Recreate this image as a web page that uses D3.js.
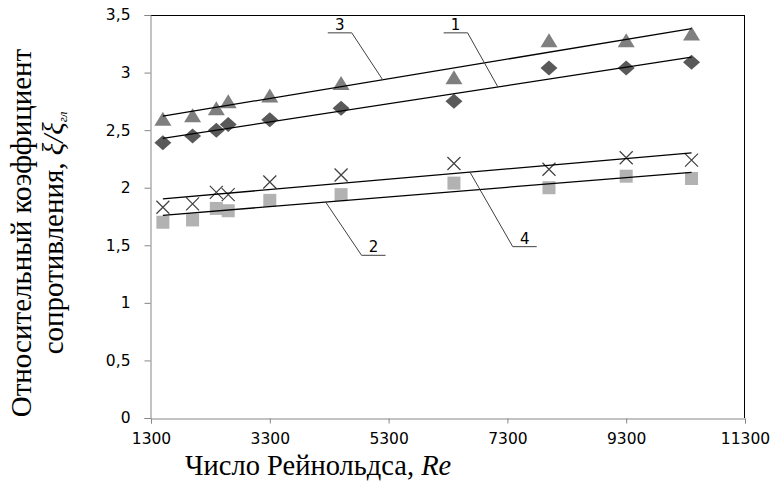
<!DOCTYPE html>
<html>
<head>
<meta charset="utf-8">
<script src="https://cdn.jsdelivr.net/npm/d3@7"></script>
<style>
  body { margin: 0; background: #fff; }
</style>
</head>
<body>
<svg id="chart"></svg>
<script>
// Reynolds numbers of the measurement points (same for all four series)
const reynolds = [1500, 2000, 2400, 2600, 3300, 4500, 6400, 8000, 9300, 10400];

// relative resistance coefficient, one array per curve
const curve1 = [2.39, 2.45, 2.5, 2.55, 2.59, 2.69, 2.75, 3.04, 3.04, 3.09]; // diamonds
const curve2 = [1.7, 1.72, 1.82, 1.8, 1.89, 1.94, 2.04, 2.0, 2.1, 2.08];    // squares
const curve3 = [2.6, 2.63, 2.69, 2.75, 2.8, 2.91, 2.96, 3.28, 3.28, 3.34];  // triangles
const curve4 = [1.83, 1.86, 1.96, 1.94, 2.05, 2.11, 2.21, 2.16, 2.26, 2.24]; // crosses

const xTicks = [1300, 3300, 5300, 7300, 9300, 11300];
const yTicks = [0, 0.5, 1, 1.5, 2, 2.5, 3, 3.5];

// curve labels: where the leader touches the trend line and where it bends
const labelNames = ["3", "1", "4", "2"];
const labelCurves = [curve3, curve1, curve4, curve2];
const labelAnchorRe = [5200, 7140, 6670, 4240];
const labelElbowRe = [4680, 6630, 7390, 4845];
const labelElbowY = [3.345, 3.345, 1.488, 1.413];
const labelSide = [-1, -1, 1, 1];

const width = 774;
const height = 490;
const margin = { top: 15, right: 29, bottom: 72, left: 151 };

const svg = d3
  .select("#chart")
  .attr("width", width)
  .attr("height", height);

const x = d3
  .scaleLinear()
  .domain([1300, 11300])
  .range([margin.left, width - margin.right]);

const y = d3
  .scaleLinear()
  .domain([0, 3.5])
  .range([height - margin.bottom, margin.top]);

const tickFont = "DejaVu Sans, Verdana, sans-serif";
const titleFont = "Liberation Serif, Times New Roman, serif";
const axisGrey = "#868686";

// least squares line, like the Excel linear trendline
function fit(ys) {
  const mx = d3.mean(reynolds);
  const my = d3.mean(ys);
  let sxy = 0;
  let sxx = 0;
  reynolds.forEach(function(r, i) {
    sxy += (r - mx) * (ys[i] - my);
    sxx += (r - mx) * (r - mx);
  });
  const k = sxy / sxx;
  return function(r) {
    return my + k * (r - mx);
  };
}

// frame: grey axes left and bottom, black top and right
svg
  .append("line")
  .attr("x1", x(1300))
  .attr("x2", x(11300))
  .attr("y1", y(3.5) + 0.5)
  .attr("y2", y(3.5) + 0.5)
  .attr("stroke", "#000");
svg
  .append("line")
  .attr("x1", x(11300) - 0.5)
  .attr("x2", x(11300) - 0.5)
  .attr("y1", y(3.5))
  .attr("y2", y(0))
  .attr("stroke", "#000");

const xAxis = svg
  .append("g")
  .attr("transform", "translate(0," + (y(0) + 0.5) + ")")
  .call(
    d3
      .axisBottom(x)
      .tickValues(xTicks)
      .tickSize(5)
      .tickPadding(9)
      .tickFormat(d3.format("d"))
  );

const yAxis = svg
  .append("g")
  .attr("transform", "translate(" + (x(1300) - 0.5) + ",0)")
  .call(
    d3
      .axisLeft(y)
      .tickValues(yTicks)
      .tickSize(6)
      .tickPadding(14)
      .tickFormat(function(d) {
        return String(d).replace(".", ",");
      })
  );

[xAxis, yAxis].forEach(function(g) {
  g.select(".domain").attr("stroke", axisGrey);
  g.selectAll(".tick line").attr("stroke", axisGrey);
  g.selectAll(".tick text")
    .attr("fill", "#000")
    .style("font-family", tickFont)
    .style("font-size", "15.5px");
});

// markers
const plot = svg.append("g");

function addPoints(ys, draw) {
  plot
    .append("g")
    .selectAll("g")
    .data(ys)
    .enter()
    .append("g")
    .attr("transform", function(d, i) {
      return "translate(" + x(reynolds[i]) + "," + y(d) + ")";
    })
    .each(function() {
      draw(d3.select(this));
    });
}

addPoints(curve3, function(g) {
  g.append("path")
    .attr("d", "M0,-7L8.5,7L-8.5,7Z")
    .attr("fill", "#7f7f7f");
});

addPoints(curve1, function(g) {
  g.append("path")
    .attr("d", "M0,-7.5L8.5,0L0,7.5L-8.5,0Z")
    .attr("fill", "#595959");
});

addPoints(curve2, function(g) {
  g.append("rect")
    .attr("x", -6.5)
    .attr("y", -6.5)
    .attr("width", 13)
    .attr("height", 13)
    .attr("fill", "#b2b2b2");
});

addPoints(curve4, function(g) {
  g.append("path")
    .attr("d", "M-6.5,-6.5L6.5,6.5M-6.5,6.5L6.5,-6.5")
    .attr("stroke", "#404040")
    .attr("stroke-width", 1.2)
    .attr("fill", "none");
});

// trend lines over the markers
[curve3, curve1, curve4, curve2].forEach(function(ys) {
  const f = fit(ys);
  const r0 = d3.min(reynolds);
  const r1 = d3.max(reynolds);
  svg
    .append("line")
    .attr("x1", x(r0))
    .attr("y1", y(f(r0)))
    .attr("x2", x(r1))
    .attr("y2", y(f(r1)))
    .attr("stroke", "#000")
    .attr("stroke-width", 1.3);
});

// leader lines with curve numbers
labelNames.forEach(function(name, i) {
  const f = fit(labelCurves[i]);
  const ax = x(labelAnchorRe[i]);
  const ay = y(f(labelAnchorRe[i]));
  const ex = x(labelElbowRe[i]);
  const ey = y(labelElbowY[i]);
  const ux = ex + labelSide[i] * 24;

  svg
    .append("path")
    .attr("d", "M" + ax + "," + ay + "L" + ex + "," + ey + "L" + ux + "," + ey)
    .attr("stroke", "#404040")
    .attr("stroke-width", 1)
    .attr("fill", "none");

  svg
    .append("text")
    .attr("x", (ex + ux) / 2)
    .attr("y", ey - 3)
    .attr("text-anchor", "middle")
    .style("font-family", tickFont)
    .style("font-size", "15px")
    .text(name);
});

// axis titles
const xTitle = svg
  .append("text")
  .attr("x", 185)
  .attr("y", 475)
  .style("font-family", titleFont)
  .style("font-size", "28.5px");
xTitle.append("tspan").text("Число Рейнольдса, ");
xTitle.append("tspan").style("font-style", "italic").text("Re");

const yTitle = svg
  .append("g")
  .attr("transform", "translate(0," + 233 + ") rotate(-90)");

yTitle
  .append("text")
  .attr("x", 0)
  .attr("y", 31)
  .attr("text-anchor", "middle")
  .style("font-family", titleFont)
  .style("font-size", "29px")
  .text("Относительный коэффициент");

const line2 = yTitle
  .append("text")
  .attr("x", 0)
  .attr("y", 63)
  .attr("text-anchor", "middle")
  .style("font-family", titleFont)
  .style("font-size", "29px");
line2.append("tspan").text("сопротивления, ");
line2.append("tspan").style("font-style", "italic").text("ξ/ξ");
line2
  .append("tspan")
  .style("font-style", "italic")
  .style("font-size", "13px")
  .attr("dy", 4)
  .text("гл");
</script>
</body>
</html>
